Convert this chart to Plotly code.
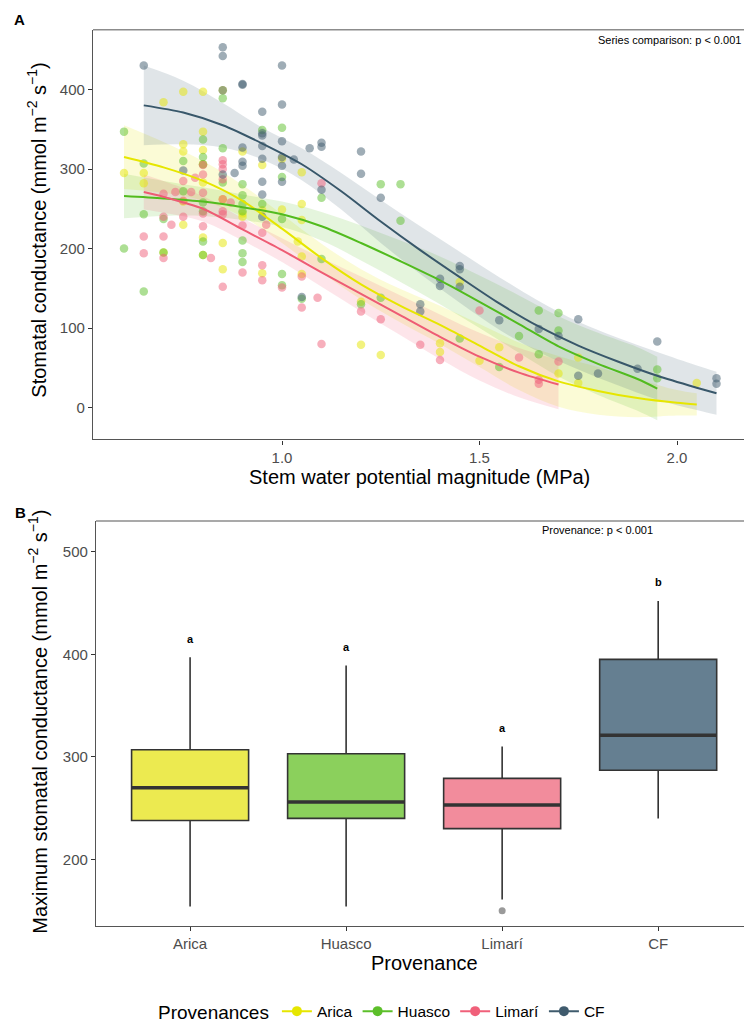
import plotly.graph_objects as go

# ---------------- Panel A: stomatal conductance vs stem water potential ----------------
provenances = ["Arica", "Huasco", "Limarí", "CF"]

arica_x = [0.60, 0.65, 0.65, 0.70, 0.70, 0.75, 0.75, 0.75, 0.75, 0.75, 0.80, 0.80, 0.80, 0.80, 0.80,
           0.80, 0.80, 0.85, 0.85, 0.85, 0.85, 0.90, 0.90, 0.90, 0.95, 0.95, 0.95, 1.00, 1.00, 1.04,
           1.05, 1.05, 1.05, 1.05, 1.05, 1.20, 1.20, 1.25, 1.40, 1.40, 1.45, 1.50, 1.55, 1.70, 1.75,
           1.75, 2.05]
arica_y = [295, 295, 282, 384, 195, 397, 331, 322, 259, 230, 397, 347, 324, 306, 283,
           214, 192, 399, 262, 207, 174, 322, 244, 240, 305, 248, 169, 313, 249, 209,
           296, 256, 236, 190, 168, 133, 79, 66, 81, 70, 158, 59, 76, 43, 63,
           31, 31]

huasco_x = [0.60, 0.60, 0.65, 0.65, 0.65, 0.70, 0.70, 0.75, 0.75, 0.80, 0.80, 0.80, 0.80, 0.80, 0.80,
            0.80, 0.85, 0.85, 0.85, 0.90, 0.90, 0.90, 0.90, 0.90, 0.90, 0.90, 0.95, 0.95, 1.00, 1.00,
            1.00, 1.00, 1.00, 1.05, 1.10, 1.10, 1.20, 1.25, 1.25, 1.30, 1.30, 1.45, 1.55, 1.60, 1.65,
            1.65, 1.70, 1.70, 1.95, 1.95]
huasco_y = [347, 200, 307, 243, 146, 237, 195, 310, 272, 337, 315, 306, 258, 247, 209,
            192, 389, 326, 283, 281, 267, 256, 247, 210, 194, 183, 349, 256, 352, 290,
            237, 168, 154, 137, 264, 187, 130, 281, 138, 281, 235, 87, 51, 90, 122,
            67, 119, 97, 48, 37]

limari_x = [0.65, 0.65, 0.70, 0.70, 0.70, 0.70, 0.72, 0.73, 0.75, 0.75, 0.75, 0.77, 0.78, 0.80, 0.80,
            0.80, 0.80, 0.80, 0.82, 0.85, 0.85, 0.85, 0.85, 0.85, 0.85, 0.85, 0.85, 0.87, 0.90, 0.90,
            0.95, 0.95, 0.95, 0.96, 1.00, 1.05, 1.05, 1.09, 1.10, 1.10, 1.20, 1.25, 1.35, 1.40, 1.50,
            1.60, 1.65, 1.65, 1.70]
limari_y = [215, 194, 269, 240, 215, 188, 230, 271, 285, 260, 240, 271, 289, 305, 293,
            270, 244, 228, 188, 311, 306, 300, 287, 262, 247, 243, 152, 258, 229, 170,
            220, 179, 160, 230, 151, 165, 126, 138, 282, 80, 121, 111, 79, 60, 122,
            63, 35, 30, 58]

cf_x = [0.65, 0.75, 0.85, 0.85, 0.85, 0.85, 0.88, 0.90, 0.90, 0.90, 0.90, 0.90, 0.95, 0.95, 0.95,
        0.95, 0.95, 0.95, 0.95, 0.95, 1.00, 1.00, 1.00, 1.00, 1.00, 1.00, 1.03, 1.05, 1.07, 1.10,
        1.10, 1.10, 1.20, 1.20, 1.25, 1.35, 1.35, 1.40, 1.40, 1.45, 1.45, 1.45, 1.55, 1.65, 1.70,
        1.75, 1.75, 1.80, 1.90, 1.95, 2.10, 2.10]
cf_y = [430, 298, 453, 442, 399, 293, 295, 407, 406, 327, 309, 304, 372, 345, 342,
        329, 313, 284, 268, 240, 430, 381, 335, 315, 304, 284, 312, 139, 326, 333,
        328, 274, 322, 294, 264, 130, 121, 162, 153, 178, 174, 152, 110, 99, 90,
        111, 40, 43, 49, 83, 37, 30]

# fitted response curves with their confidence half-widths
arica_fit_x = [0.6, 0.7, 0.8, 0.9, 1.0, 1.1, 1.2, 1.3, 1.4, 1.5, 1.6, 1.7, 1.8, 1.9, 2.0, 2.05]
arica_fit_y = [315, 302, 285, 260, 225, 188, 155, 128, 104, 78, 52, 33, 21, 12, 6, 4]
arica_ci = [40, 32, 25, 20, 18, 18, 19, 21, 24, 27, 30, 32, 30, 24, 16, 14]

huasco_fit_x = [0.6, 0.7, 0.8, 0.9, 1.0, 1.1, 1.2, 1.3, 1.4, 1.5, 1.6, 1.7, 1.8, 1.9, 1.95]
huasco_fit_y = [266, 263, 259, 252, 243, 228, 207, 184, 160, 133, 105, 77, 55, 36, 24]
huasco_ci = [28, 22, 18, 16, 16, 18, 22, 26, 30, 33, 36, 38, 39, 40, 40]

limari_fit_x = [0.65, 0.7, 0.8, 0.9, 1.0, 1.1, 1.2, 1.3, 1.4, 1.5, 1.6, 1.7]
limari_fit_y = [271, 265, 250, 224, 198, 170, 143, 116, 89, 64, 44, 29]
limari_ci = [22, 20, 16, 14, 15, 18, 22, 25, 28, 30, 31, 31]

cf_fit_x = [0.65, 0.75, 0.85, 0.95, 1.05, 1.15, 1.25, 1.35, 1.45, 1.55, 1.65, 1.75, 1.85, 1.95, 2.05, 2.1]
cf_fit_y = [380, 371, 355, 332, 306, 272, 234, 198, 164, 131, 102, 78, 58, 40, 25, 18]
cf_ci = [50, 40, 28, 20, 20, 23, 27, 30, 32, 33, 32, 30, 30, 30, 28, 27]

# ---------------- Panel B: maximum stomatal conductance per provenance ----------------
box_q1 = [238, 240, 230, 287]
box_median = [270, 256, 253, 321]
box_q3 = [307, 303, 279, 395]
box_lower = [154, 154, 161, 240]
box_upper = [397, 389, 310, 452]
outlier_group = ["Limarí"]
outlier_value = [150]
sig_letters = ["a", "a", "a", "b"]

# ---------------- styling ----------------
W, H = 744, 1030
base = {"Arica": (230, 230, 0), "Huasco": (92, 191, 42), "Limarí": (240, 96, 122), "CF": (63, 91, 109)}
line_col = {"Arica": "#e6e600", "Huasco": "#52bb1e", "Limarí": "#ee5c74", "CF": "#38576a"}
box_fill = {"Arica": "#ecea50", "Huasco": "#8bd05c", "Limarí": "#f28c9c", "CF": "#657f91"}
FONT = "Liberation Sans, Arial, sans-serif"
TICK = dict(family=FONT, size=15, color="#4d4d4d")
TITLE_SIZE = 20


def rgba(c, a):
    return f"rgba({c[0]},{c[1]},{c[2]},{a})"


def px_x(p):
    return p / W


def px_y(p):
    return 1 - p / H


fig = go.Figure()

series = {
    "Arica": (arica_x, arica_y, arica_fit_x, arica_fit_y, arica_ci),
    "Huasco": (huasco_x, huasco_y, huasco_fit_x, huasco_fit_y, huasco_ci),
    "Limarí": (limari_x, limari_y, limari_fit_x, limari_fit_y, limari_ci),
    "CF": (cf_x, cf_y, cf_fit_x, cf_fit_y, cf_ci),
}

# confidence ribbons
for name, (_, _, fx, fy, ci) in series.items():
    lo = [y - c for y, c in zip(fy, ci)]
    hi = [y + c for y, c in zip(fy, ci)]
    fig.add_trace(go.Scatter(x=fx, y=lo, mode="lines", line=dict(width=0, shape="spline"),
                             showlegend=False, hoverinfo="skip", xaxis="x", yaxis="y"))
    fig.add_trace(go.Scatter(x=fx, y=hi, mode="lines", line=dict(width=0, shape="spline"),
                             fill="tonexty", fillcolor=rgba(base[name], 0.16),
                             showlegend=False, hoverinfo="skip", xaxis="x", yaxis="y"))

# observations
for name, (sx, sy, _, _, _) in series.items():
    fig.add_trace(go.Scatter(x=sx, y=sy, mode="markers",
                             marker=dict(size=8.5, color=rgba(base[name], 0.5), line=dict(width=0)),
                             showlegend=False, xaxis="x", yaxis="y"))

# fitted curves
for name, (_, _, fx, fy, _) in series.items():
    fig.add_trace(go.Scatter(x=fx, y=fy, mode="lines",
                             line=dict(color=line_col[name], width=2, shape="spline", smoothing=0.8),
                             showlegend=False, xaxis="x", yaxis="y"))

# boxes
positions = list(range(1, len(provenances) + 1))
half = 0.375
for i, name in enumerate(provenances):
    fig.add_trace(go.Box(x=[positions[i]], q1=[box_q1[i]], median=[box_median[i]], q3=[box_q3[i]],
                         lowerfence=[box_lower[i]], upperfence=[box_upper[i]],
                         width=2 * half, fillcolor=box_fill[name], whiskerwidth=0,
                         line=dict(color="#333333", width=1.6), boxpoints=False,
                         showlegend=False, hoverinfo="skip", xaxis="x2", yaxis="y2"))
    fig.add_trace(go.Scatter(x=[positions[i] - half, positions[i] + half],
                             y=[box_median[i], box_median[i]], mode="lines",
                             line=dict(color="#333333", width=3.5),
                             showlegend=False, hoverinfo="skip", xaxis="x2", yaxis="y2"))

fig.add_trace(go.Scatter(x=[positions[provenances.index(g)] for g in outlier_group], y=outlier_value,
                         mode="markers", marker=dict(size=7, color="#9a9a9a"),
                         showlegend=False, xaxis="x2", yaxis="y2"))

# legend entries
for name in provenances:
    fig.add_trace(go.Scatter(x=[None], y=[None], mode="lines+markers", name=name,
                             line=dict(color=rgba(base[name], 1), width=2),
                             marker=dict(size=10, color=rgba(base[name], 1)),
                             xaxis="x", yaxis="y"))

axis_common = dict(showline=True, linecolor="#555555", linewidth=1.2, ticks="outside",
                   ticklen=4, tickcolor="#333333", tickwidth=1.1, tickfont=TICK,
                   showgrid=False, zeroline=False, automargin=False, mirror=False)

annotations = [
    dict(text="<b>A</b>", x=px_x(12), y=px_y(20), xref="paper", yref="paper", showarrow=False,
         xanchor="left", yanchor="middle", font=dict(family=FONT, size=15, color="black")),
    dict(text="<b>B</b>", x=px_x(13), y=px_y(515), xref="paper", yref="paper", showarrow=False,
         xanchor="left", yanchor="middle", font=dict(family=FONT, size=15, color="black")),
    dict(text="Series comparison: p < 0.001", x=px_x(743), y=px_y(40), xref="paper", yref="paper",
         showarrow=False, xanchor="right", yanchor="middle", font=dict(family=FONT, size=11, color="black")),
    dict(text="Provenance: p < 0.001", x=px_x(597), y=px_y(533), xref="paper", yref="paper",
         showarrow=False, xanchor="center", yanchor="middle", font=dict(family=FONT, size=11, color="black")),
    dict(text="Stomatal conductance (mmol m<sup>−2</sup> s<sup>−1</sup>)", x=px_x(37), y=px_y(232),
         xref="paper", yref="paper", showarrow=False, textangle=-90, xanchor="center", yanchor="middle",
         font=dict(family=FONT, size=TITLE_SIZE, color="black")),
    dict(text="Stem water potential magnitude (MPa)", x=px_x(419), y=px_y(480), xref="paper", yref="paper",
         showarrow=False, xanchor="center", yanchor="middle",
         font=dict(family=FONT, size=TITLE_SIZE, color="black")),
    dict(text="Maximum stomatal conductance (mmol m<sup>−2</sup> s<sup>−1</sup>)", x=px_x(38), y=px_y(726),
         xref="paper", yref="paper", showarrow=False, textangle=-90, xanchor="center", yanchor="middle",
         font=dict(family=FONT, size=TITLE_SIZE, color="black")),
    dict(text="Provenance", x=px_x(424), y=px_y(969), xref="paper", yref="paper",
         showarrow=False, xanchor="center", yanchor="middle",
         font=dict(family=FONT, size=TITLE_SIZE, color="black")),
]
for i, letter in enumerate(sig_letters):
    annotations.append(dict(text=f"<b>{letter}</b>", x=positions[i], y=box_upper[i] + 18, xref="x2", yref="y2",
                            showarrow=False, xanchor="center", yanchor="middle",
                            font=dict(family=FONT, size=11, color="black")))

shapes = [
    dict(type="line", xref="paper", yref="paper", x0=px_x(93), x1=1, y0=px_y(30), y1=px_y(30),
         line=dict(color="#8c8c8c", width=1.5)),
    dict(type="line", xref="paper", yref="paper", x0=px_x(96), x1=1, y0=px_y(524), y1=px_y(524),
         line=dict(color="#8c8c8c", width=1.5)),
]

fig.update_layout(
    width=W, height=H, autosize=False,
    margin=dict(l=0, r=0, t=0, b=0),
    paper_bgcolor="white", plot_bgcolor="white",
    font=dict(family=FONT, color="black"),
    xaxis=dict(domain=[px_x(93), 1], range=[0.5215, 2.1696], tickvals=[1.0, 1.5, 2.0],
               tickformat=".1f", anchor="y", **axis_common),
    yaxis=dict(domain=[px_y(442), px_y(30)], range=[-40, 475], tickvals=[0, 100, 200, 300, 400],
               anchor="x", **axis_common),
    xaxis2=dict(domain=[px_x(96), 1], range=[0.397, 4.55], tickvals=positions, ticktext=provenances,
                anchor="y2", **axis_common),
    yaxis2=dict(domain=[px_y(931), px_y(524)], range=[135.5, 530], tickvals=[200, 300, 400, 500],
                anchor="x2", **axis_common),
    showlegend=True,
    legend=dict(orientation="h", x=px_x(383), xanchor="center", y=px_y(1018), yanchor="middle",
                traceorder="normal", itemwidth=30,
                title=dict(text="Provenances", font=dict(family=FONT, size=19, color="black")),
                font=dict(family=FONT, size=15.5, color="black"),
                bgcolor="rgba(0,0,0,0)"),
    annotations=annotations,
    shapes=shapes,
)

fig.write_html("out.html")
